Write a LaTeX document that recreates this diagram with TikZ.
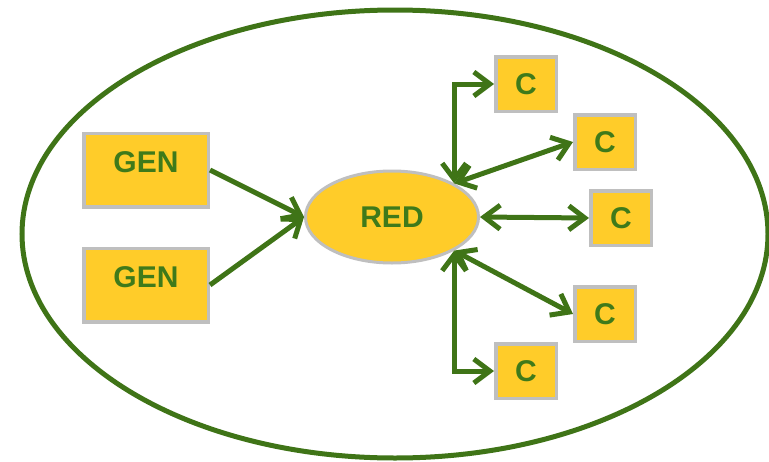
\documentclass[tikz,border=0pt]{standalone}
\usepackage{fontspec}
\setmainfont{Liberation Sans}
\usetikzlibrary{arrows.meta,shapes.geometric}
\definecolor{boxfill}{RGB}{255,204,41}
\definecolor{boxline}{RGB}{191,191,191}
\definecolor{grn}{RGB}{63,116,23}
\definecolor{txtgrn}{RGB}{63,122,26}
\tikzset{
  lbl/.style={font=\fontsize{30}{30}\selectfont\bfseries, text=txtgrn},
  genbox/.style={draw=boxline, line width=3.5pt, fill=boxfill, minimum width=124.5pt, minimum height=73.5pt, inner sep=0pt},
  cbox/.style={draw=boxline, line width=3.5pt, fill=boxfill, minimum width=60.5pt, minimum height=54.5pt, inner sep=0pt, lbl},
  redell/.style={ellipse, draw=boxline, line width=3pt, fill=boxfill, minimum width=173pt, minimum height=92pt, inner sep=0pt, lbl},
  tipA/.tip={Straight Barb[length=16pt,width=24pt]},
  conn/.style={draw=grn, line width=5pt, arrows={-tipA}},
  dconn/.style={draw=grn, line width=5pt, arrows={tipA-tipA}},
}
\begin{document}
\begin{tikzpicture}[x=1pt,y=-1pt]
\useasboundingbox (0,0) rectangle (769,461);
\draw[grn, line width=5pt] (395,234) ellipse [x radius=373pt, y radius=224pt];
\node[genbox, label={[lbl, yshift=8pt]center:GEN}] (gen1) at (146,170) {};
\node[genbox, label={[lbl, yshift=8pt]center:GEN}] (gen2) at (146,285) {};
\node[redell] (red) at (392,217) {RED};
\node[cbox] (c1) at (526,84) {C};
\node[cbox] (c2) at (605,142) {C};
\node[cbox] (c3) at (621,218) {C};
\node[cbox] (c4) at (605,314) {C};
\node[cbox] (c5) at (526,371) {C};
\draw[conn] (gen1.east) -- (red.west);
\draw[conn] (gen2.east) -- (red.west);
\draw[dconn] (red.north east) |- (c1.west);
\draw[dconn] (red.north east) -- (c2.west);
\draw[dconn] (red.east) -- (c3.west);
\draw[dconn] (red.south east) -- (c4.west);
\draw[dconn] (red.south east) |- (c5.west);
\end{tikzpicture}
\end{document}
